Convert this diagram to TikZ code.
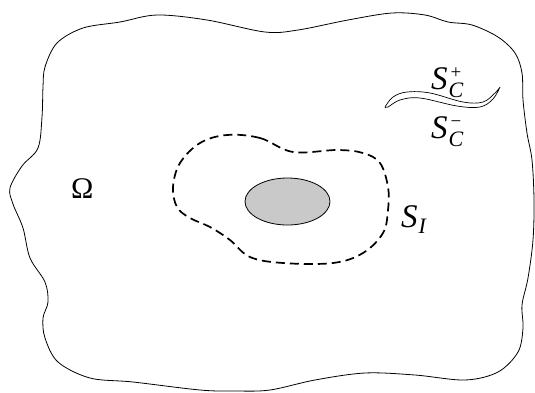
\documentclass[tikz,border=0pt]{standalone}
\usetikzlibrary{shapes.geometric}
\usepackage{fontspec}
\setmainfont{Liberation Serif}
\newcommand\mysubsup[3]{\textit{#1}\rlap{\kern1pt\raisebox{-8.5pt}{\fontsize{22}{22}\selectfont\textit{#2}}}\kern3pt\raisebox{11pt}{\fontsize{19}{19}\selectfont #3}}
\newcommand\mysub[2]{\textit{#1}\kern1pt\raisebox{-6pt}{\fontsize{22}{22}\selectfont\textit{#2}}}
\begin{document}
\begin{tikzpicture}[x=1pt,y=-1pt,
  boundary/.style={line width=0.8pt},
  cutline/.style={line width=1.7pt, dash pattern=on 9pt off 5pt},
  inclusion/.style={draw, line width=0.8pt, fill=gray!42},
  crack/.style={draw, line width=0.7pt, fill=white},
  lab/.style={inner sep=0pt, anchor=base west, font=\fontsize{33}{33}\selectfont}]
\useasboundingbox (0,0) rectangle (535,392);
% outer domain
\draw[boundary] plot[smooth cycle, tension=0.55] coordinates {
 (45,67) (57,43) (83,28) (120,22) (157,15) (207,20) (265,32) (298,30)
 (348,20) (392,13) (425,15) (448,22) (472,25) (498,37) (515,53) (522,73)
 (523,100) (527,133) (532,160) (534,200) (533,240) (528,278) (522,305)
 (523,328) (518,352) (498,372) (465,380) (415,375) (365,373) (315,380)
 (270,390) (235,391) (200,390) (133,382) (90,378) (58,362) (45,338)
 (43,318) (48,302) (45,282) (30,258) (23,228) (13,204) (10,188)
 (22,166) (38,148) (42,117) (43,87)};
% dashed contour S_I
\draw[cutline] plot[smooth cycle, tension=0.6] coordinates {
 (293,152) (260,138) (227,135) (200,143) (180,163) (173,187) (177,207)
 (190,218) (210,227) (230,240) (250,257) (283,263) (333,263) (363,253)
 (383,233) (388,210) (388,187) (380,163) (363,153) (337,150)};
% inclusion
\node[inclusion, ellipse, minimum width=85pt, minimum height=47pt, inner sep=0pt] (incl) at (287.5,201.5) {};
% crack
\path[crack] plot[smooth, tension=0.6] coordinates {
 (385,107) (393,97) (407,92) (430,93) (463,102) (483,102) (495,93) (500,87)}
 -- plot[smooth, tension=0.6] coordinates {
 (500,87) (493,99) (480,107) (457,106) (420,98) (400,100) (388,107) (385,107)} -- cycle;
% labels
\node[lab, font=\fontsize{30}{30}\selectfont] (omega) at (71,198) {Ω};
\node[lab] (si) at (401,227) {\mysub{S}{I}};
\node[lab] (scp) at (431,89) {\mysubsup{S}{C}{+}};
\node[lab] (scm) at (431,138) {\mysubsup{S}{C}{−}};
\end{tikzpicture}
\end{document}
